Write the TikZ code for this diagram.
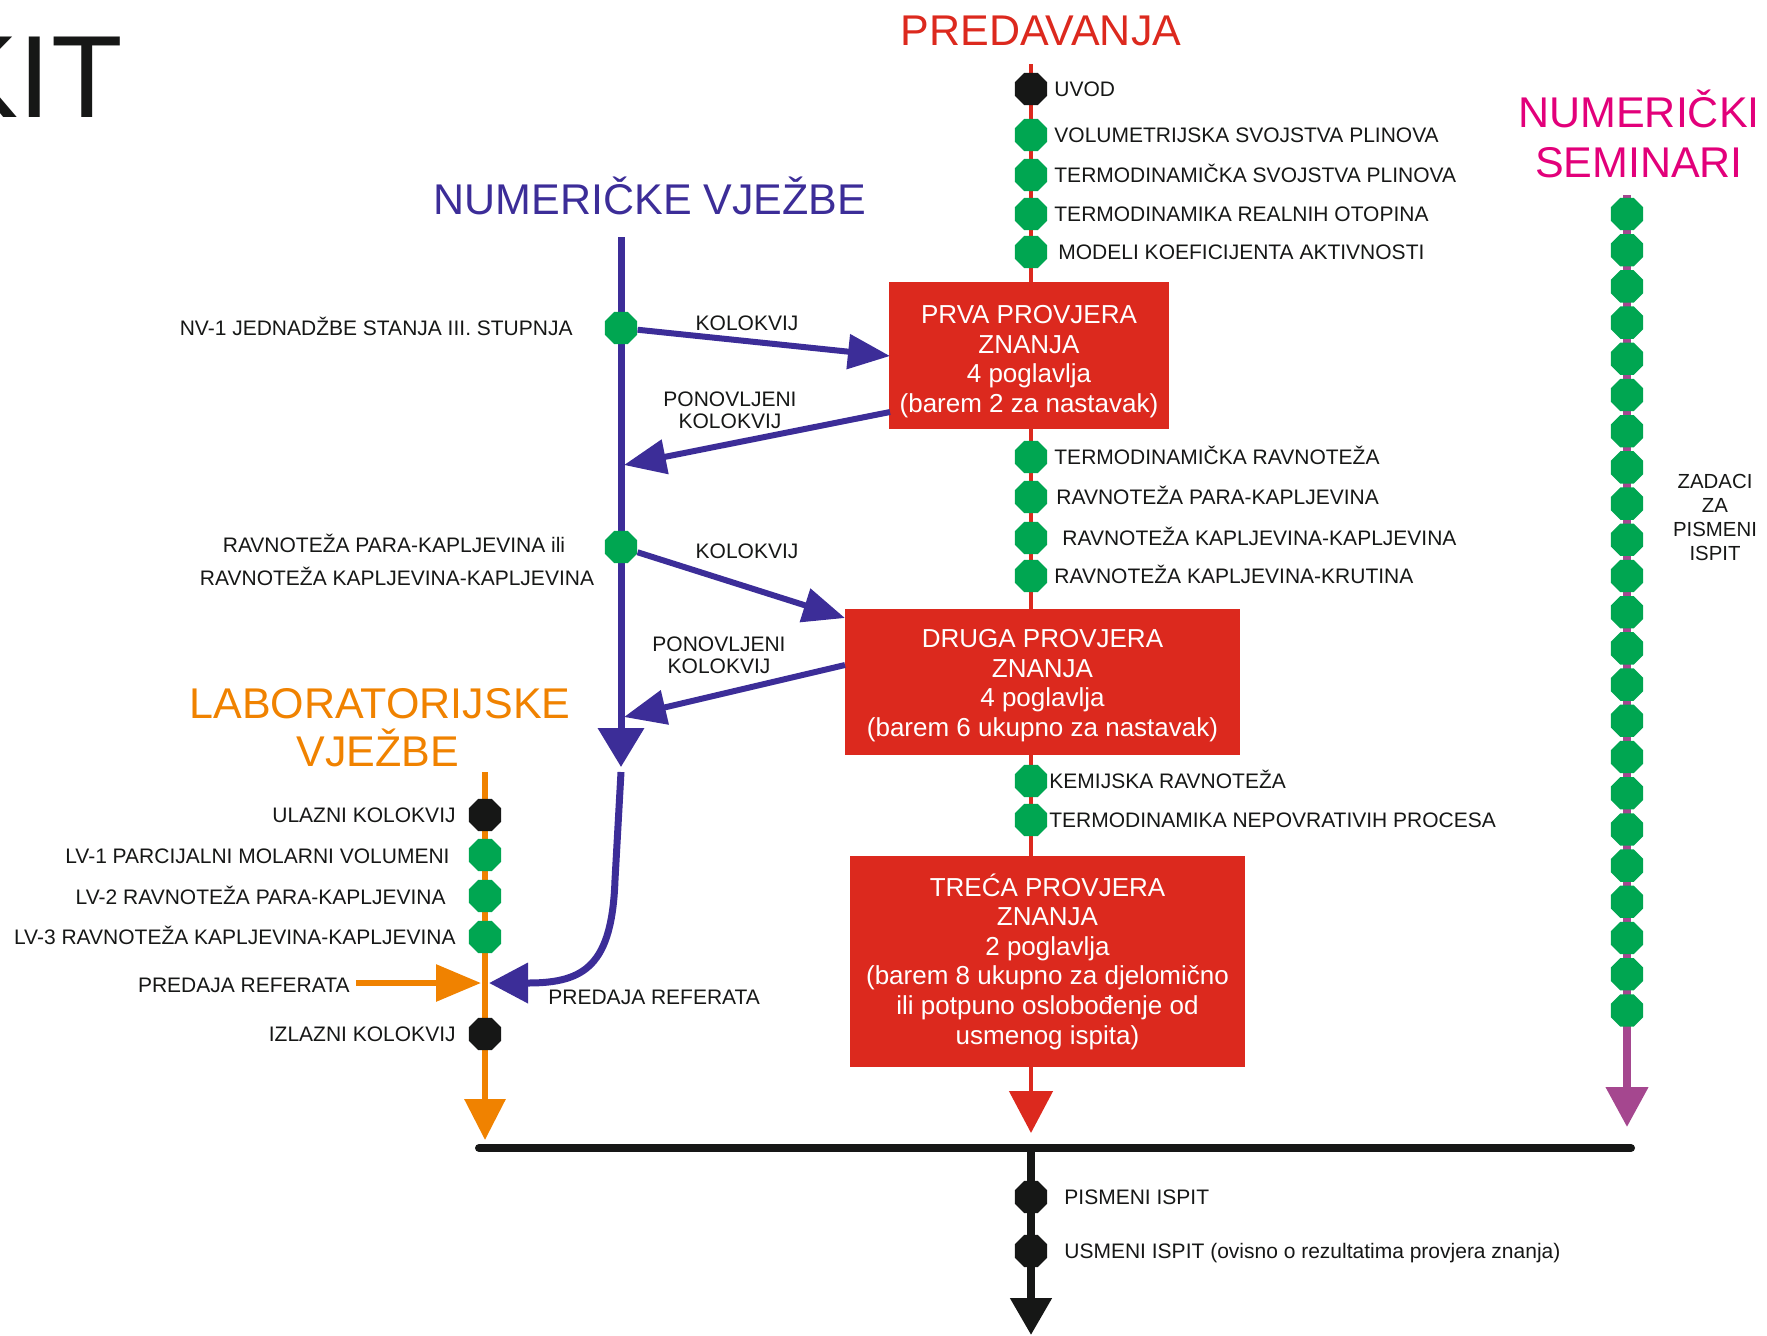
\documentclass[tikz,border=0pt]{standalone}
\usepackage{fontspec}
\setmainfont{Liberation Sans}
\usetikzlibrary{arrows.meta,shapes.geometric,calc}
\definecolor{cred}{HTML}{DC291E}
\definecolor{cgreen}{HTML}{00A651}
\definecolor{cblue}{HTML}{3C2D98}
\definecolor{corange}{HTML}{F08200}
\definecolor{cmag}{HTML}{E2007A}
\definecolor{cmauve}{HTML}{A5478F}
\definecolor{cblack}{HTML}{161716}
\begin{document}
\begin{tikzpicture}[x=0.5pt,y=-0.5pt,
  dot/.style={regular polygon,regular polygon sides=8,minimum size=17.5pt,inner sep=0pt,fill=cgreen},
  bdot/.style={dot,fill=cblack},
  lbl/.style={font=\fontsize{10.5}{11}\selectfont,inner sep=0pt,text=cblack},
  rl/.style={lbl,anchor=base west,yshift=-3.75pt},
  ll/.style={lbl,anchor=base east,yshift=-3.75pt},
  ttl/.style={font=\fontsize{21.5}{24}\selectfont,inner sep=0pt,anchor=base},
  box/.style={fill=cred,text=white,inner sep=0pt,align=center,font=\fontsize{13}{14.8}\selectfont},
  redline/.style={draw=cred,line width=2.4pt,-{Triangle[length=21pt,width=21.5pt]}},
  blueline/.style={draw=cblue,line width=3.5pt},
  bluearrow/.style={draw=cblue,line width=3pt,-{Triangle[length=21pt,width=17pt]}},
  orangeline/.style={draw=corange,line width=3.2pt},
  mauveline/.style={draw=cmauve,line width=3.8pt,-{Triangle[length=20pt,width=20.5pt]}},
  blackline/.style={draw=cblack,line width=4pt},
]
\useasboundingbox (0,0) rectangle (1767,1335);

% ---------- coordinates ----------
\coordinate (rtop) at (1031,64);
\coordinate (rend) at (1031,1133);
\coordinate (nvtop) at (621,237);
\coordinate (nvend) at (621,767);
\coordinate (k1end) at (890,356);
\coordinate (p1start) at (890,412);
\coordinate (p1end) at (624,465);
\coordinate (k2end) at (845,618);
\coordinate (p2start) at (845,665);
\coordinate (p2end) at (624,717);
\coordinate (cv0) at (621,772);
\coordinate (cv1) at (615,880);
\coordinate (cv2) at (528,983);
\coordinate (cvend) at (489,983);
\coordinate (ltop) at (485,772);
\coordinate (lend) at (485,1140);
\coordinate (oastart) at (356,983);
\coordinate (oaend) at (481,983);
\coordinate (mtop) at (1627,195);
\coordinate (mend) at (1627,1127);
\coordinate (hl) at (479,1148);
\coordinate (hr) at (1631,1148);
\coordinate (btop) at (1031,1148);
\coordinate (bend) at (1031,1335);

% ---------- lines ----------
\draw[redline] (rtop) -- (rend);
\draw[blueline,-{Triangle[length=19.5pt,width=22.5pt]}] (nvtop) -- (nvend);
\draw[orangeline,-{Triangle[length=20.5pt,width=20pt]}] (ltop) -- (lend);
\draw[mauveline] (mtop) -- (mend);
\draw[blackline,line cap=round] (hl) -- (hr);
\draw[blackline,-{Triangle[length=18.5pt,width=20pt]}] (btop) -- (bend);
\draw[draw=cblue,line width=3.5pt,-{Triangle[length=19.5pt,width=19.5pt]}]
  (cv0) -- (cv1) .. controls (612,965) and (585,983) .. (cv2) -- (cvend);
\draw[draw=corange,line width=3pt,-{Triangle[length=22.5pt,width=18pt]}] (oastart) -- (oaend);

% ---------- boxes ----------
\node[box,minimum width=140pt,minimum height=73.5pt] (prva) at (1029,355.5)
  {\rule{0pt}{15.3pt}PRVA PROVJERA\\ZNANJA\\4 poglavlja\\(barem 2 za nastavak)};
\node[box,minimum width=197.5pt,minimum height=73pt] (druga) at (1042.5,682)
  {\rule{0pt}{12.7pt}DRUGA PROVJERA\\ZNANJA\\4 poglavlja\\(barem 6 ukupno za nastavak)};
\node[box,minimum width=197.5pt,minimum height=105.5pt] (treca) at (1047.5,961.5)
  {TREĆA PROVJERA\\ZNANJA\\2 poglavlja\\(barem 8 ukupno za djelomično\\ili potpuno oslobođenje od\\usmenog ispita)};

% ---------- red line dots ----------
\node[bdot] (uvod) at (1031,89) {};
\node[dot] (r1) at (1031,135) {};
\node[dot] (r2) at (1031,175) {};
\node[dot] (r3) at (1031,214) {};
\node[dot] (r4) at (1031,252) {};
\node[dot] (r5) at (1031,457) {};
\node[dot] (r6) at (1031,497) {};
\node[dot] (r7) at (1031,538) {};
\node[dot] (r8) at (1031,576) {};
\node[dot] (r9) at (1031,781) {};
\node[dot] (r10) at (1031,820) {};

\node[rl] (tuvod) at (1054,89) {UVOD};
\node[rl] (tr1) at (1054,135) {VOLUMETRIJSKA SVOJSTVA PLINOVA};
\node[rl] (tr2) at (1054,175) {TERMODINAMIČKA SVOJSTVA PLINOVA};
\node[rl] (tr3) at (1054,214) {TERMODINAMIKA REALNIH OTOPINA};
\node[rl] (tr4) at (1058,252) {MODELI KOEFICIJENTA AKTIVNOSTI};
\node[rl] (tr5) at (1054,457) {TERMODINAMIČKA RAVNOTEŽA};
\node[rl] (tr6) at (1056,497) {RAVNOTEŽA PARA-KAPLJEVINA};
\node[rl] (tr7) at (1062,538) {RAVNOTEŽA KAPLJEVINA-KAPLJEVINA};
\node[rl] (tr8) at (1054,576) {RAVNOTEŽA KAPLJEVINA-KRUTINA};
\node[rl] (tr9) at (1049,781) {KEMIJSKA RAVNOTEŽA};
\node[rl] (tr10) at (1049,820) {TERMODINAMIKA NEPOVRATIVIH PROCESA};

% ---------- numeričke vježbe ----------
\node[dot] (nv1) at (621,328) {};
\node[dot] (nv2) at (621,547) {};
\draw[bluearrow] (nv1) -- (k1end);
\draw[bluearrow] (p1start) -- (p1end);
\draw[bluearrow] (nv2) -- (k2end);
\draw[bluearrow] (p2start) -- (p2end);
\node[ll] (tnv1) at (573,328) {NV-1 JEDNADŽBE STANJA III. STUPNJA};
\node[lbl,anchor=base,yshift=-3.75pt] (tnv2a) at (394,545) {RAVNOTEŽA PARA-KAPLJEVINA ili};
\node[lbl,anchor=base,yshift=-3.75pt] (tnv2b) at (397,578) {RAVNOTEŽA KAPLJEVINA-KAPLJEVINA};
\node[lbl,anchor=base,yshift=-3.75pt] (tk1) at (747,323) {KOLOKVIJ};
\node[lbl,anchor=base,yshift=-3.75pt] (tk2) at (747,551) {KOLOKVIJ};
\node[lbl,align=center] (tp1) at (730,410) {PONOVLJENI\\KOLOKVIJ};
\node[lbl,align=center] (tp2) at (719,655) {PONOVLJENI\\KOLOKVIJ};

% ---------- laboratorijske vježbe ----------
\node[bdot] (ulaz) at (485,815) {};
\node[dot] (lv1) at (485,855) {};
\node[dot] (lv2) at (485,896) {};
\node[dot] (lv3) at (485,937) {};
\node[bdot] (izlaz) at (485,1034) {};
\node[ll] (tulaz) at (456,815) {ULAZNI KOLOKVIJ};
\node[ll] (tlv1) at (450,856) {LV-1 PARCIJALNI MOLARNI VOLUMENI};
\node[ll] (tlv2) at (446,897) {LV-2 RAVNOTEŽA PARA-KAPLJEVINA};
\node[ll] (tlv3) at (456,937) {LV-3 RAVNOTEŽA KAPLJEVINA-KAPLJEVINA};
\node[ll] (tpr1) at (350,985) {PREDAJA REFERATA};
\node[rl] (tpr2) at (548,997) {PREDAJA REFERATA};
\node[ll] (tizlaz) at (456,1034) {IZLAZNI KOLOKVIJ};

% ---------- numerički seminari ----------
\foreach \i in {0,...,22}
  \node[dot] (ns\i) at (1627,{214+36.2*\i}) {};
\node[lbl,align=center,font=\fontsize{10.2}{12}\selectfont] (tzad) at (1715,517) {ZADACI\\ZA\\PISMENI\\ISPIT};

% ---------- ispit ----------
\node[bdot] (pis) at (1031,1197) {};
\node[bdot] (usm) at (1031,1251) {};
\node[rl] (tpis) at (1064,1197) {PISMENI ISPIT};
\node[rl] (tusm) at (1064,1251) {USMENI ISPIT (ovisno o rezultatima provjera znanja)};

% ---------- titles ----------
\node[font=\fontsize{58.5}{60}\selectfont,anchor=base east,inner sep=0pt,text=cblack] (kit) at (123,117) {KIT};
\node[ttl,text=cred] (tpred) at (1041,45) {PREDAVANJA};
\node[ttl,text=cblue] (tnv) at (650,214) {NUMERIČKE VJEŽBE};
\node[ttl,text=cmag] (tns1) at (1639,127) {NUMERIČKI};
\node[ttl,text=cmag] (tns2) at (1639,177) {SEMINARI};
\node[ttl,text=corange] (tlab1) at (380,718) {LABORATORIJSKE};
\node[ttl,text=corange] (tlab2) at (378,766) {VJEŽBE};
\end{tikzpicture}
\end{document}
